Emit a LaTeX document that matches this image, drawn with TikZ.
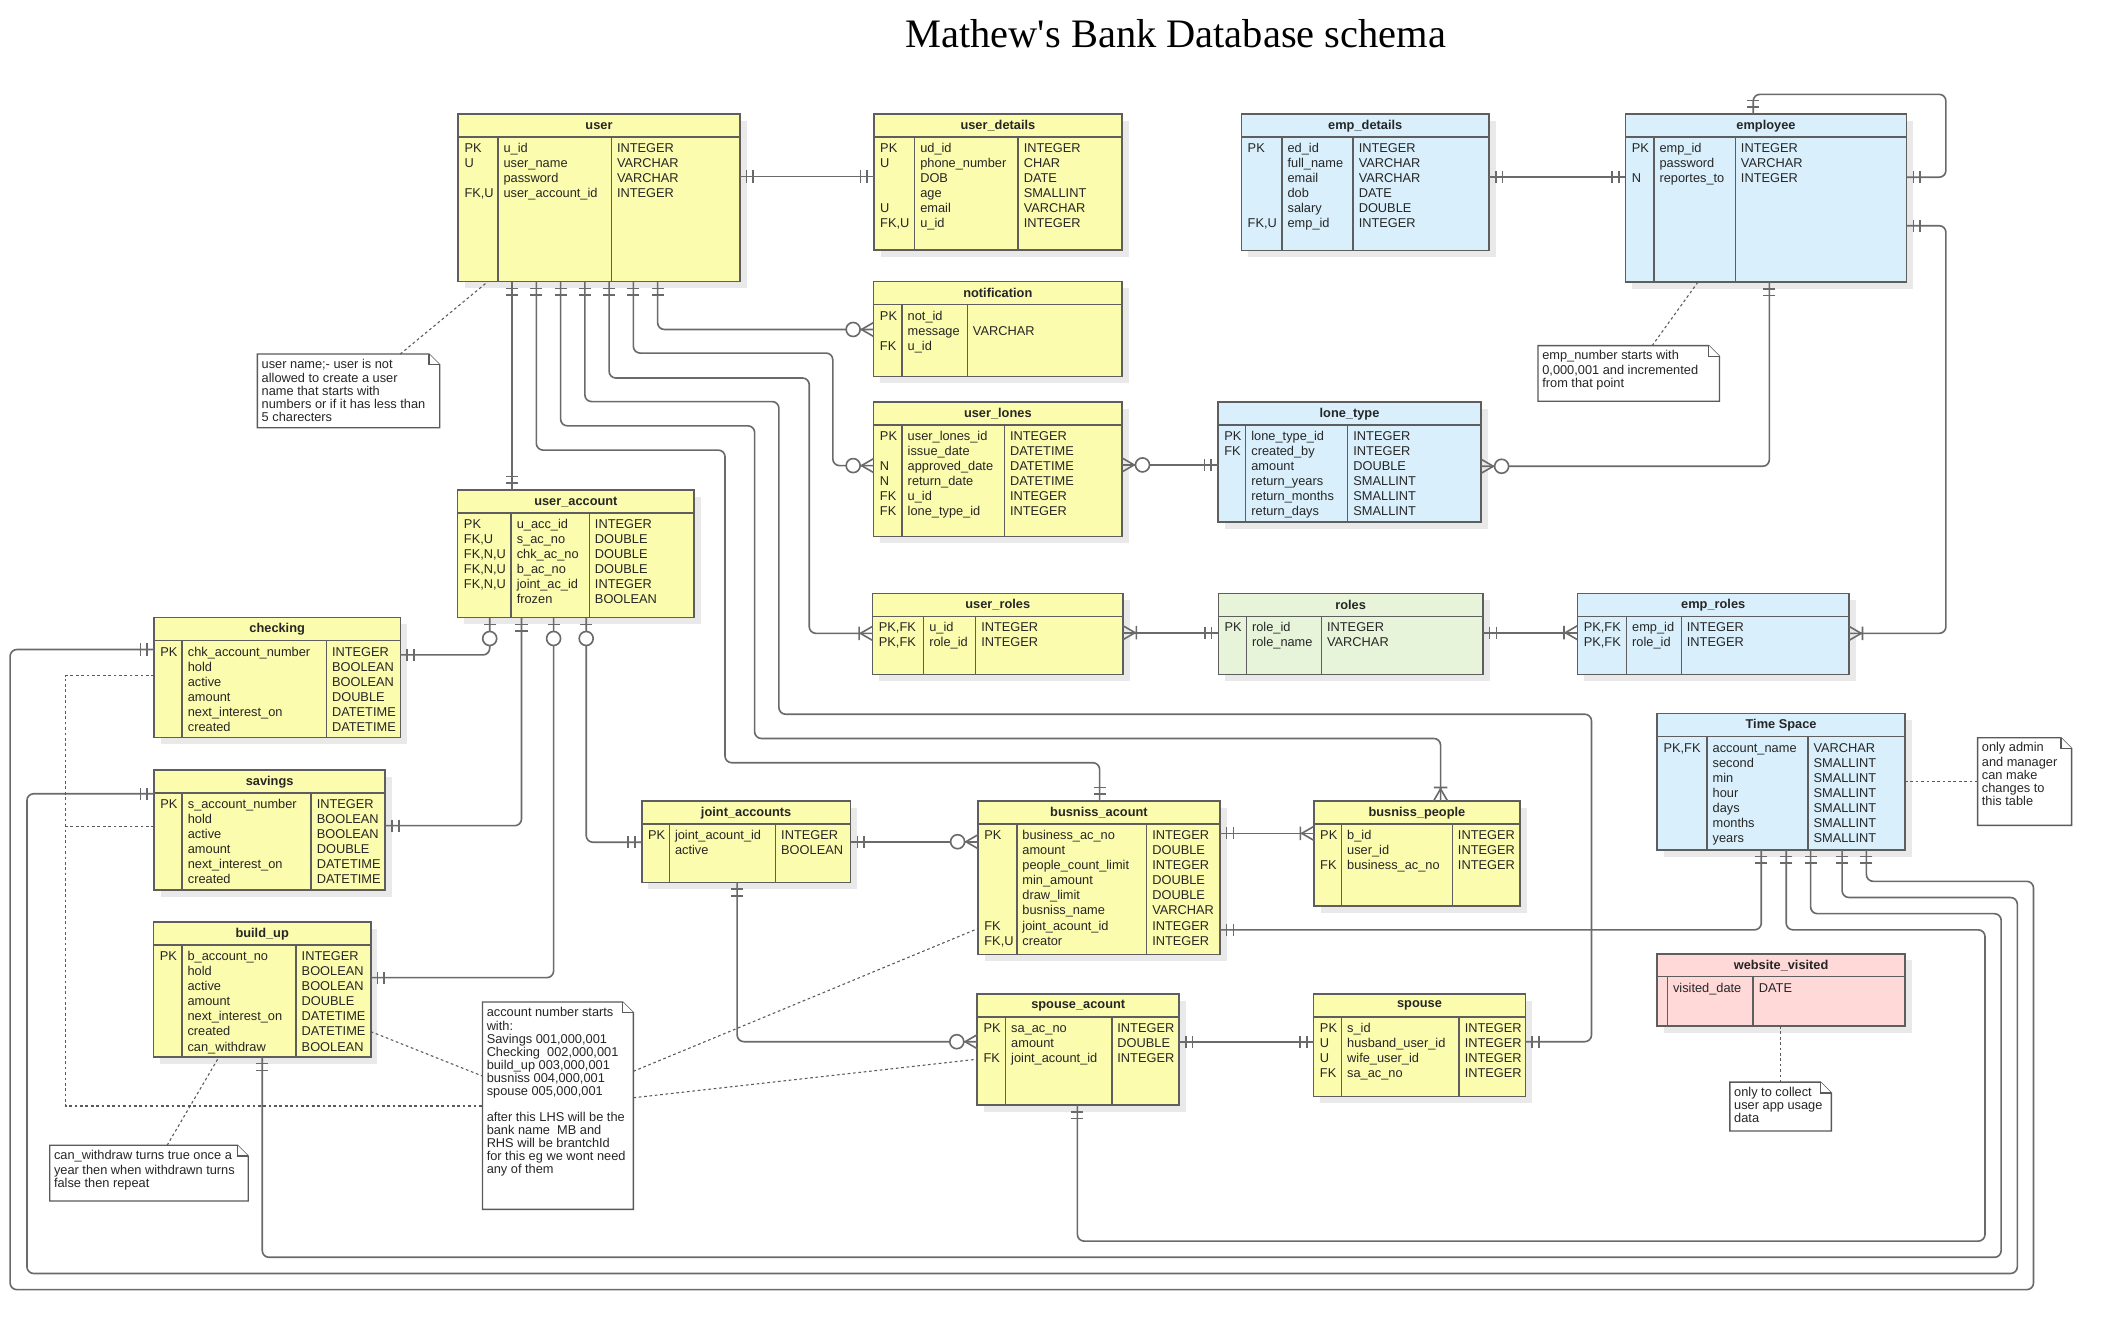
\documentclass[tikz,border=0pt]{standalone}
\usepackage{fontspec}
\setmainfont{Liberation Sans}
\newfontfamily\titlefont{Liberation Serif}
\usetikzlibrary{calc,arrows.meta}

\definecolor{tyellow}{HTML}{FCFCAE}
\definecolor{tblue}{HTML}{D9F0FC}
\definecolor{tgreen}{HTML}{E8F4DA}
\definecolor{tpink}{HTML}{FFD8D8}
\definecolor{bordc}{HTML}{5E5E5E}
\definecolor{connc}{HTML}{6A6A6A}
\definecolor{shadc}{HTML}{E9E9E9}
\definecolor{notec}{HTML}{5A5A5A}

% ER crow's foot end markers
\pgfdeclarearrow{
  name = ERmand,
  parameters = {\the\pgflinewidth},
  setup code = {
    \pgfarrowssettipend{0pt}
    \pgfarrowssetlineend{0pt}
    \pgfarrowssetbackend{-12pt}
    \pgfarrowssetvisualbackend{-12pt}
    \pgfarrowshullpoint{0pt}{5pt}
    \pgfarrowshullpoint{0pt}{-5pt}
    \pgfarrowshullpoint{-12pt}{5pt}
    \pgfarrowshullpoint{-12pt}{-5pt}
  },
  drawing code = {
    \pgfsetdash{}{0pt}
    \pgfpathmoveto{\pgfqpoint{-5pt}{-4.5pt}}
    \pgfpathlineto{\pgfqpoint{-5pt}{4.5pt}}
    \pgfpathmoveto{\pgfqpoint{-10pt}{-4.5pt}}
    \pgfpathlineto{\pgfqpoint{-10pt}{4.5pt}}
    \pgfusepathqstroke
  },
}
\pgfdeclarearrow{
  name = ERzmany,
  parameters = {\the\pgflinewidth},
  setup code = {
    \pgfarrowssettipend{0pt}
    \pgfarrowssetlineend{0pt}
    \pgfarrowssetbackend{-21pt}
    \pgfarrowssetvisualbackend{-21pt}
    \pgfarrowshullpoint{0pt}{6pt}
    \pgfarrowshullpoint{0pt}{-6pt}
    \pgfarrowshullpoint{-21pt}{6pt}
    \pgfarrowshullpoint{-21pt}{-6pt}
  },
  drawing code = {
    \pgfsetdash{}{0pt}
    \pgfpathmoveto{\pgfqpoint{0pt}{5.2pt}}
    \pgfpathlineto{\pgfqpoint{-9pt}{0pt}}
    \pgfpathlineto{\pgfqpoint{0pt}{-5.2pt}}
    \pgfusepathqstroke
    \begin{pgfscope}
      \pgfsetfillcolor{white}
      \pgfpathcircle{\pgfqpoint{-15.2pt}{0pt}}{5.2pt}
      \pgfusepathqfillstroke
    \end{pgfscope}
  },
}
\pgfdeclarearrow{
  name = ERomany,
  parameters = {\the\pgflinewidth},
  setup code = {
    \pgfarrowssettipend{0pt}
    \pgfarrowssetlineend{0pt}
    \pgfarrowssetbackend{-12pt}
    \pgfarrowssetvisualbackend{-12pt}
    \pgfarrowshullpoint{0pt}{6pt}
    \pgfarrowshullpoint{0pt}{-6pt}
    \pgfarrowshullpoint{-12pt}{5pt}
    \pgfarrowshullpoint{-12pt}{-5pt}
  },
  drawing code = {
    \pgfsetdash{}{0pt}
    \pgfpathmoveto{\pgfqpoint{0pt}{5.2pt}}
    \pgfpathlineto{\pgfqpoint{-9pt}{0pt}}
    \pgfpathlineto{\pgfqpoint{0pt}{-5.2pt}}
    \pgfpathmoveto{\pgfqpoint{-10pt}{-5pt}}
    \pgfpathlineto{\pgfqpoint{-10pt}{5pt}}
    \pgfusepathqstroke
  },
}
\pgfdeclarearrow{
  name = ERzone,
  parameters = {\the\pgflinewidth},
  setup code = {
    \pgfarrowssettipend{0pt}
    \pgfarrowssetlineend{0pt}
    \pgfarrowssetbackend{-21pt}
    \pgfarrowssetvisualbackend{-21pt}
    \pgfarrowshullpoint{0pt}{5pt}
    \pgfarrowshullpoint{0pt}{-5pt}
    \pgfarrowshullpoint{-21pt}{6pt}
    \pgfarrowshullpoint{-21pt}{-6pt}
  },
  drawing code = {
    \pgfsetdash{}{0pt}
    \pgfpathmoveto{\pgfqpoint{-5pt}{-4.5pt}}
    \pgfpathlineto{\pgfqpoint{-5pt}{4.5pt}}
    \pgfusepathqstroke
    \begin{pgfscope}
      \pgfsetfillcolor{white}
      \pgfpathcircle{\pgfqpoint{-15.5pt}{0pt}}{5.2pt}
      \pgfusepathqfillstroke
    \end{pgfscope}
  },
}

% table: name, fill, x, y, w, h, title, divider1, divider2
\newcommand{\ertable}[9]{%
  \fill[shadc] (#3+5,#4+5) rectangle ++(#5,#6);
  \node[tblbox, fill=#2, minimum width=#5pt, minimum height=#6pt] (#1) at (#3,#4) {};
  \draw[tblline] (#3,#4+17) -- (#3+#5,#4+17);
  \draw[tblline] (#8,#4+17) -- (#8,#4+#6);
  \draw[tblline] (#9,#4+17) -- (#9,#4+#6);
  \node[tbltitle] at (#3+#5/2,#4+8.7) {#7};
}
% columns: x, y, divider1, divider2, keys, names, types
\newcommand{\ercols}[7]{%
  \node[coltext] at (#1+4.5,#2+20.5) {\strut{}#5};
  \node[coltext] at (#3+4,#2+20.5) {\strut{}#6};
  \node[coltext] at (#4+4,#2+20.5) {\strut{}#7};
}
% note: name, x1, y1, x2, y2, text
\newcommand{\ernote}[6]{%
  \node[anchor=north west, inner sep=0pt, outer sep=0pt, minimum width={(#4-#2)*1pt}, minimum height={(#5-#3)*1pt}] (#1) at (#2,#3) {};
  \draw[notebox] (#1.north west) -- ($(#1.north east)+(-8,0)$) -- ($(#1.north east)+(0,8)$) -- (#1.south east) -- (#1.south west) -- cycle;
  \draw[notebox] ($(#1.north east)+(-8,0)$) -- ($(#1.north east)+(-8,8)$) -- ($(#1.north east)+(0,8)$);
  \node[notetext] at ($(#1.north west)+(3,3.5)$) {\strut{}#6};
}

\begin{document}
\begin{tikzpicture}[x=1pt,y=-1pt,
  tblbox/.style={draw=bordc, line width=1.2pt, anchor=north west, inner sep=0pt, outer sep=0pt, rectangle},
  tblline/.style={draw=bordc, line width=1.1pt},
  tbltitle/.style={font=\fontsize{9.5}{11}\selectfont\bfseries, inner sep=0pt, text=black!85},
  coltext/.style={anchor=north west, inner sep=0pt, align=left, font=\fontsize{9.5}{11.2}\selectfont, text=black!85},
  conn/.style={draw=connc, line width=1.2pt, rounded corners=5pt},
  notebox/.style={draw=notec, line width=1pt, fill=white},
  notetext/.style={anchor=north west, inner sep=0pt, align=left, font=\fontsize{9.5}{9.6}\selectfont, text=black!85},
  notelink/.style={draw=notec, line width=0.8pt, dash pattern=on 2pt off 2pt}
]
\useasboundingbox (0,0) rectangle (1568,988);
\fill[white] (0,0) rectangle (1568,988);

\node[font=\titlefont\fontsize{30}{36}\selectfont, anchor=base] (title) at (872.5,35) {Mathew's Bank Database schema};

% ---------- tables ----------
\ertable{user}{tyellow}{340}{84.6}{209}{124.4}{user}{369.5}{453.7}
\ercols{340}{84.6}{369.5}{453.7}{PK\\U\\~\\FK,U}{u\_id\\user\_name\\password\\user\_account\_id}{INTEGER\\VARCHAR\\VARCHAR\\INTEGER}

\ertable{userdetails}{tyellow}{648.5}{84.6}{184}{101}{user\_details}{678.7}{755.5}
\ercols{648.5}{84.6}{678.7}{755.5}{PK\\U\\~\\~\\U\\FK,U}{ud\_id\\phone\_number\\DOB\\age\\email\\u\_id}{INTEGER\\CHAR\\DATE\\SMALLINT\\VARCHAR\\INTEGER}

\ertable{notification}{tyellow}{648.3}{209}{184.3}{70.5}{notification}{669.4}{717.8}
\ercols{648.3}{209}{669.4}{717.8}{PK\\~\\FK}{not\_id\\message\\u\_id}{~\\VARCHAR}

\ertable{userlones}{tyellow}{648.3}{298.3}{184.3}{99.9}{user\_lones}{669.4}{745.3}
\ercols{648.3}{298.3}{669.4}{745.3}{PK\\~\\N\\N\\FK\\FK}{user\_lones\_id\\issue\_date\\approved\_date\\return\_date\\u\_id\\lone\_type\_id}{INTEGER\\DATETIME\\DATETIME\\DATETIME\\INTEGER\\INTEGER}

\ertable{lonetype}{tblue}{903.8}{298.3}{195.3}{89.1}{lone\_type}{924.4}{1000.1}
\ercols{903.8}{298.3}{924.4}{1000.1}{PK\\FK}{lone\_type\_id\\created\_by\\amount\\return\_years\\return\_months\\return\_days}{INTEGER\\INTEGER\\DOUBLE\\SMALLINT\\SMALLINT\\SMALLINT}

\ertable{empdetails}{tblue}{921.2}{84.6}{183.8}{101.2}{emp\_details}{951.3}{1004.1}
\ercols{921.2}{84.6}{951.3}{1004.1}{PK\\~\\~\\~\\~\\FK,U}{ed\_id\\full\_name\\email\\dob\\salary\\emp\_id}{INTEGER\\VARCHAR\\VARCHAR\\DATE\\DOUBLE\\INTEGER}

\ertable{employee}{tblue}{1206.2}{84.6}{208.6}{124.7}{employee}{1227.3}{1287.7}
\ercols{1206.2}{84.6}{1227.3}{1287.7}{PK\\~\\N}{emp\_id\\password\\reportes\_to}{INTEGER\\VARCHAR\\INTEGER}

\ertable{useraccount}{tyellow}{339.6}{363.6}{175.5}{94.7}{user\_account}{379.3}{437.3}
\ercols{339.6}{363.6}{379.3}{437.3}{PK\\FK,U\\FK,N,U\\FK,N,U\\FK,N,U}{u\_acc\_id\\s\_ac\_no\\chk\_ac\_no\\b\_ac\_no\\joint\_ac\_id\\frozen}{INTEGER\\DOUBLE\\DOUBLE\\DOUBLE\\INTEGER\\BOOLEAN}

\ertable{checking}{tyellow}{114.3}{458.3}{182.8}{89.1}{checking}{135.2}{242.2}
\ercols{114.3}{458.3}{135.2}{242.2}{PK}{chk\_account\_number\\hold\\active\\amount\\next\_interest\_on\\created}{INTEGER\\BOOLEAN\\BOOLEAN\\DOUBLE\\DATETIME\\DATETIME}

\ertable{savings}{tyellow}{114.3}{571.4}{171.6}{89}{savings}{135.2}{230.9}
\ercols{114.3}{571.4}{135.2}{230.9}{PK}{s\_account\_number\\hold\\active\\amount\\next\_interest\_on\\created}{INTEGER\\BOOLEAN\\BOOLEAN\\DOUBLE\\DATETIME\\DATETIME}

\ertable{buildup}{tyellow}{114}{684.2}{161.1}{100.1}{build\_up}{135}{219.7}
\ercols{114}{684.2}{135}{219.7}{PK}{b\_account\_no\\hold\\active\\amount\\next\_interest\_on\\created\\can\_withdraw}{INTEGER\\BOOLEAN\\BOOLEAN\\DOUBLE\\DATETIME\\DATETIME\\BOOLEAN}

\ertable{joint}{tyellow}{476.2}{594.4}{155}{60.4}{joint\_accounts}{496.7}{575.5}
\ercols{476.2}{594.4}{496.7}{575.5}{PK}{joint\_acount\_id\\active}{INTEGER\\BOOLEAN}

\ertable{busacc}{tyellow}{725.8}{594.4}{179.4}{113.8}{busniss\_acount}{754.5}{850.9}
\ercols{725.8}{594.4}{754.5}{850.9}{PK\\~\\~\\~\\~\\~\\FK\\FK,U}{business\_ac\_no\\amount\\people\_count\_limit\\min\_amount\\draw\_limit\\busniss\_name\\joint\_acount\_id\\creator}{INTEGER\\DOUBLE\\INTEGER\\DOUBLE\\DOUBLE\\VARCHAR\\INTEGER\\INTEGER}

\ertable{buspeople}{tyellow}{975}{594.4}{152.9}{77.9}{busniss\_people}{995.5}{1077.7}
\ercols{975}{594.4}{995.5}{1077.7}{PK\\~\\FK}{b\_id\\user\_id\\business\_ac\_no}{INTEGER\\INTEGER\\INTEGER}

\ertable{spouseacc}{tyellow}{725.2}{737.6}{149.8}{82.4}{spouse\_acount}{746.2}{825}
\ercols{725.2}{737.6}{746.2}{825}{PK\\~\\FK}{sa\_ac\_no\\amount\\joint\_acount\_id}{INTEGER\\DOUBLE\\INTEGER}

\ertable{spouse}{tyellow}{974.8}{737.6}{157.1}{76.2}{spouse}{995.5}{1082.8}
\ercols{974.8}{737.6}{995.5}{1082.8}{PK\\U\\U\\FK}{s\_id\\husband\_user\_id\\wife\_user\_id\\sa\_ac\_no}{INTEGER\\INTEGER\\INTEGER\\INTEGER}

\ertable{userroles}{tyellow}{647.5}{440.3}{185.8}{60.1}{user\_roles}{685.4}{724}
\ercols{647.5}{440.3}{685.4}{724}{PK,FK\\PK,FK}{u\_id\\role\_id}{INTEGER\\INTEGER}

\ertable{roles}{tgreen}{904.1}{440.3}{196.3}{60.1}{roles}{924.9}{980.6}
\ercols{904.1}{440.3}{924.9}{980.6}{PK}{role\_id\\role\_name}{INTEGER\\VARCHAR}

\ertable{emproles}{tblue}{1170.6}{440.3}{201.5}{60.1}{emp\_roles}{1207}{1247.6}
\ercols{1170.6}{440.3}{1207}{1247.6}{PK,FK\\PK,FK}{emp\_id\\role\_id}{INTEGER\\INTEGER}

\ertable{timespace}{tblue}{1229.8}{529.6}{183.8}{101}{Time Space}{1266.7}{1341.6}
\ercols{1229.8}{529.6}{1266.7}{1341.6}{PK,FK}{account\_name\\second\\min\\hour\\days\\months\\years}{VARCHAR\\SMALLINT\\SMALLINT\\SMALLINT\\SMALLINT\\SMALLINT\\SMALLINT}

\ertable{website}{tpink}{1229.8}{707.7}{183.8}{53.7}{website\_visited}{1237.3}{1301}
\ercols{1229.8}{707.7}{1237.3}{1301}{}{visited\_date}{DATE}

% ---------- connectors ----------
\draw[conn, ERmand-ERmand] (user.east |- 0,131) -- (userdetails.west |- 0,131);
\draw[conn, ERmand-ERzmany] (user.south -| 488,0) |- (notification.west |- 0,244.5);
\draw[conn, ERmand-ERzmany] (user.south -| 470,0) |- (618,262) |- (userlones.west |- 0,345.5);
\draw[conn, ERmand-ERomany] (user.south -| 452,0) |- (600.5,280.5) |- (userroles.west |- 0,470);
\draw[conn, ERmand-ERmand] (user.south -| 434,0) |- (578,298) |- (1181,530) |- (spouse.east |- 0,773);
\draw[conn, ERmand-ERomany] (user.south -| 416,0) |- (560,316) |- (1069,548) -- (buspeople.north -| 1069,0);
\draw[conn, ERmand-ERmand] (user.south -| 398,0) |- (538,334) |- (816,566) -- (busacc.north -| 816,0);
\draw[conn, ERmand-ERmand] (user.south -| 380,0) -- (useraccount.north -| 380,0);

\draw[conn, ERzmany-ERmand] (userlones.east |- 0,345) -- (lonetype.west |- 0,345);
\draw[conn, ERzmany-ERmand] (lonetype.east |- 0,346) -| (employee.south -| 1313,0);
\draw[conn, ERmand-ERmand] (empdetails.east |- 0,131.5) -- (employee.west |- 0,131.5);
\draw[conn, ERmand-ERmand] (employee.north -| 1301,0) |- (1444,70) |- (employee.east |- 0,131.5);
\draw[conn, ERmand-ERomany] (employee.east |- 0,167.5) -| (1444,470) -- (emproles.east |- 0,470);
\draw[conn, ERomany-ERmand] (userroles.east |- 0,469.5) -- (roles.west |- 0,469.5);
\draw[conn, ERmand-ERomany] (roles.east |- 0,469.5) -- (emproles.west |- 0,469.5);

\draw[conn, ERzone-ERmand] (useraccount.south -| 363.4,0) |- (checking.east |- 0,486);
\draw[conn, ERmand-ERmand] (useraccount.south -| 387,0) |- (savings.east |- 0,612.7);
\draw[conn, ERzone-ERmand] (useraccount.south -| 410.8,0) |- (buildup.east |- 0,725.5);
\draw[conn, ERzone-ERmand] (useraccount.south -| 435,0) |- (joint.west |- 0,625);
\draw[conn, ERmand-ERzmany] (joint.east |- 0,624.6) -- (busacc.west |- 0,624.6);
\draw[conn, ERmand-ERzmany] (joint.south -| 547,0) |- (spouseacc.west |- 0,773);
\draw[conn, ERmand-ERomany] (busacc.east |- 0,618.4) -- (buspeople.west |- 0,618.4);
\draw[conn, ERmand-ERmand] (busacc.east |- 0,690) -| (timespace.south -| 1307,0);
\draw[conn, ERmand-ERmand] (spouseacc.east |- 0,773) -- (spouse.west |- 0,773);
\draw[conn, ERmand-ERmand] (spouseacc.south -| 799.5,0) |- (1473,921) |- (1325.5,690) -- (timespace.south -| 1325.5,0);
\draw[conn, ERmand-ERmand] (buildup.south -| 194.6,0) |- (1485,933) |- (1343.6,678) -- (timespace.south -| 1343.6,0);
\draw[conn, ERmand-ERmand] (savings.west |- 0,589) -| (20,945) -| (1497,666) -| (timespace.south -| 1367,0);
\draw[conn, ERmand-ERmand] (checking.west |- 0,482) -| (7.5,957) -| (1509,654) -| (timespace.south -| 1385,0);

% ---------- notes ----------
\ernote{note1}{191}{262.7}{326.3}{317.4}{user name;- user is not\\allowed to create a user\\name that starts with\\numbers or if it has less than\\5 charecters}
\ernote{note2}{1141.3}{256.5}{1276}{297.8}{emp\_number starts with\\0,000,001 and incremented\\from that point}
\ernote{note3}{358}{743.5}{470}{897.4}{account number starts\\with:\\Savings 001,000,001\\Checking\ \ 002,000,001\\build\_up 003,000,001\\busniss 004,000,001\\spouse 005,000,001\\~\\after this LHS will be the\\bank name\ \ MB and\\RHS will be brantchId\\for this eg we wont need\\any of them}
\ernote{note4}{36.9}{849.9}{184.2}{891.2}{can\_withdraw turns true once a\\year then when withdrawn turns\\false then repeat}
\ernote{note5}{1467.5}{547.4}{1537.3}{612.5}{only admin\\and manager\\can make\\changes to\\this table}
\ernote{note6}{1283.7}{803}{1359}{839.3}{only to collect\\user app usage\\data}

\draw[notelink] (note1.north -| 297,0) -- (user.south -| 362,0);
\draw[notelink] (note2.north -| 1226,0) -- (employee.south -| 1260,0);
\draw[notelink] (buildup.east |- 0,765.5) -- (note3.west |- 0,798.5);
\draw[notelink] (checking.west |- 0,501.4) -| (48.5,820.7) -- (note3.west |- 0,820.7);
\draw[notelink] (savings.west |- 0,613.5) -- (48.5,613.5);
\draw[notelink] (note3.east |- 0,795) -- (busacc.west |- 0,689);
\draw[notelink] (note3.east |- 0,814.6) -- (spouseacc.west |- 0,786);
\draw[notelink] (note4.north -| 124,0) -- (buildup.south -| 162.5,0);
\draw[notelink] (timespace.east |- 0,580) -- (note5.west |- 0,580);
\draw[notelink] (website.south -| 1321.5,0) -- (note6.north -| 1321.5,0);
\end{tikzpicture}
\end{document}
